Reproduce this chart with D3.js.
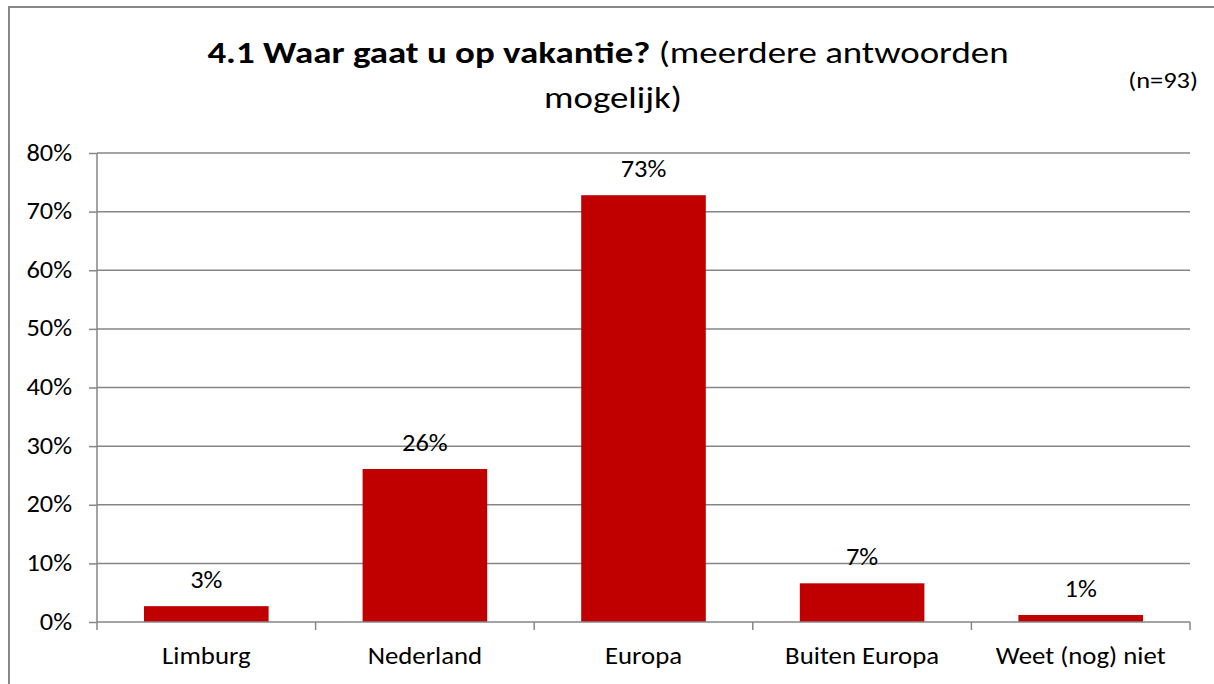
<!DOCTYPE html>
<html>
<head>
<meta charset="utf-8">
<script src="https://cdn.jsdelivr.net/npm/d3@7"></script>
<style>
  body { margin: 0; background: #fff; }
  text { font-family: Carlito, Calibri, Lato, "Open Sans", sans-serif; fill: #000; }
</style>
</head>
<body>
<div id="chart"></div>
<script>
// data
var categories = ["Limburg", "Nederland", "Europa", "Buiten Europa", "Weet (nog) niet"];
var values = [2.7, 26.1, 72.8, 6.6, 1.2];
var valueLabels = ["3%", "26%", "73%", "7%", "1%"];
var yTicks = [0, 10, 20, 30, 40, 50, 60, 70, 80];

var width = 1214, height = 684;
var plotLeft = 97, plotRight = 1190, plotTop = 153, plotBottom = 622;
var gray = "#868686";

var svg = d3.select("#chart").append("svg")
    .attr("width", width)
    .attr("height", height);

// the reference is a bit stretched sideways, so texts get a horizontal scale
function addText(parent, x, y, str, size, anchor, sx) {
    return parent.append("text")
        .attr("transform", "translate(" + x + "," + y + ") scale(" + sx + ",1)")
        .attr("text-anchor", anchor)
        .style("font-size", size + "px")
        .text(str);
}

// chart border
svg.append("rect")
    .attr("x", 9).attr("y", 7)
    .attr("width", 1220).attr("height", 700)
    .attr("fill", "none")
    .attr("stroke", gray)
    .attr("stroke-width", 2);

var x = d3.scaleBand().domain(categories).range([plotLeft, plotRight]).paddingInner(0.43).paddingOuter(0.215);
var xb = d3.scaleBand().domain(categories).range([plotLeft, plotRight]);
var y = d3.scaleLinear().domain([0, 80]).range([plotBottom, plotTop]);

// gridlines
svg.append("g").selectAll("line")
    .data(yTicks.slice(1))
    .enter().append("line")
    .attr("x1", plotLeft).attr("x2", plotRight)
    .attr("y1", function (d) { return y(d); })
    .attr("y2", function (d) { return y(d); })
    .attr("stroke", gray).attr("stroke-width", 1.5);

// y axis
var yAxis = svg.append("g")
    .attr("transform", "translate(" + plotLeft + ",0)")
    .call(d3.axisLeft(y).tickValues(yTicks).tickSize(8).tickFormat(""));
yAxis.select(".domain").attr("stroke", gray).attr("stroke-width", 1.5)
    .attr("d", "M0," + plotTop + "V" + plotBottom);
yAxis.selectAll(".tick line").attr("stroke", gray).attr("stroke-width", 1.5);
yTicks.forEach(function (t) {
    addText(svg, 72, y(t) + 7.5, t + "%", 24, "end", 1.1);
});

// bars
svg.append("g").selectAll("rect")
    .data(values)
    .enter().append("rect")
    .attr("x", function (d, i) { return x(categories[i]); })
    .attr("y", function (d) { return y(d); })
    .attr("width", x.bandwidth())
    .attr("height", function (d) { return y(0) - y(d); })
    .attr("fill", "#c00000");

// x axis
var xAxisG = svg.append("g").attr("transform", "translate(0," + plotBottom + ")");
xAxisG.append("line")
    .attr("x1", plotLeft).attr("x2", plotRight)
    .attr("stroke", gray).attr("stroke-width", 1.5);
var bounds = categories.map(function (c) { return xb(c); }).concat([plotRight]);
xAxisG.selectAll(".tk").data(bounds).enter().append("line")
    .attr("x1", function (d) { return d; }).attr("x2", function (d) { return d; })
    .attr("y1", 0).attr("y2", 8)
    .attr("stroke", gray).attr("stroke-width", 1.5);
categories.forEach(function (c) {
    addText(xAxisG, xb(c) + xb.bandwidth() / 2, 42, c, 23.5, "middle", 1.14);
});

// value labels
values.forEach(function (v, i) {
    addText(svg, x(categories[i]) + x.bandwidth() / 2, y(v) - 18, valueLabels[i], 24, "middle", 1.1);
});

// title
var title = addText(svg, 608, 63, "", 30, "middle", 1.23);
title.append("tspan").style("font-weight", "bold").text("4.1 Waar gaat u op vakantie?");
title.append("tspan").text(" (meerdere antwoorden");
addText(svg, 613, 108, "mogelijk)", 30, "middle", 1.23);

addText(svg, 1198, 88, "(n=93)", 22, "end", 1.2);
</script>
</body>
</html>
